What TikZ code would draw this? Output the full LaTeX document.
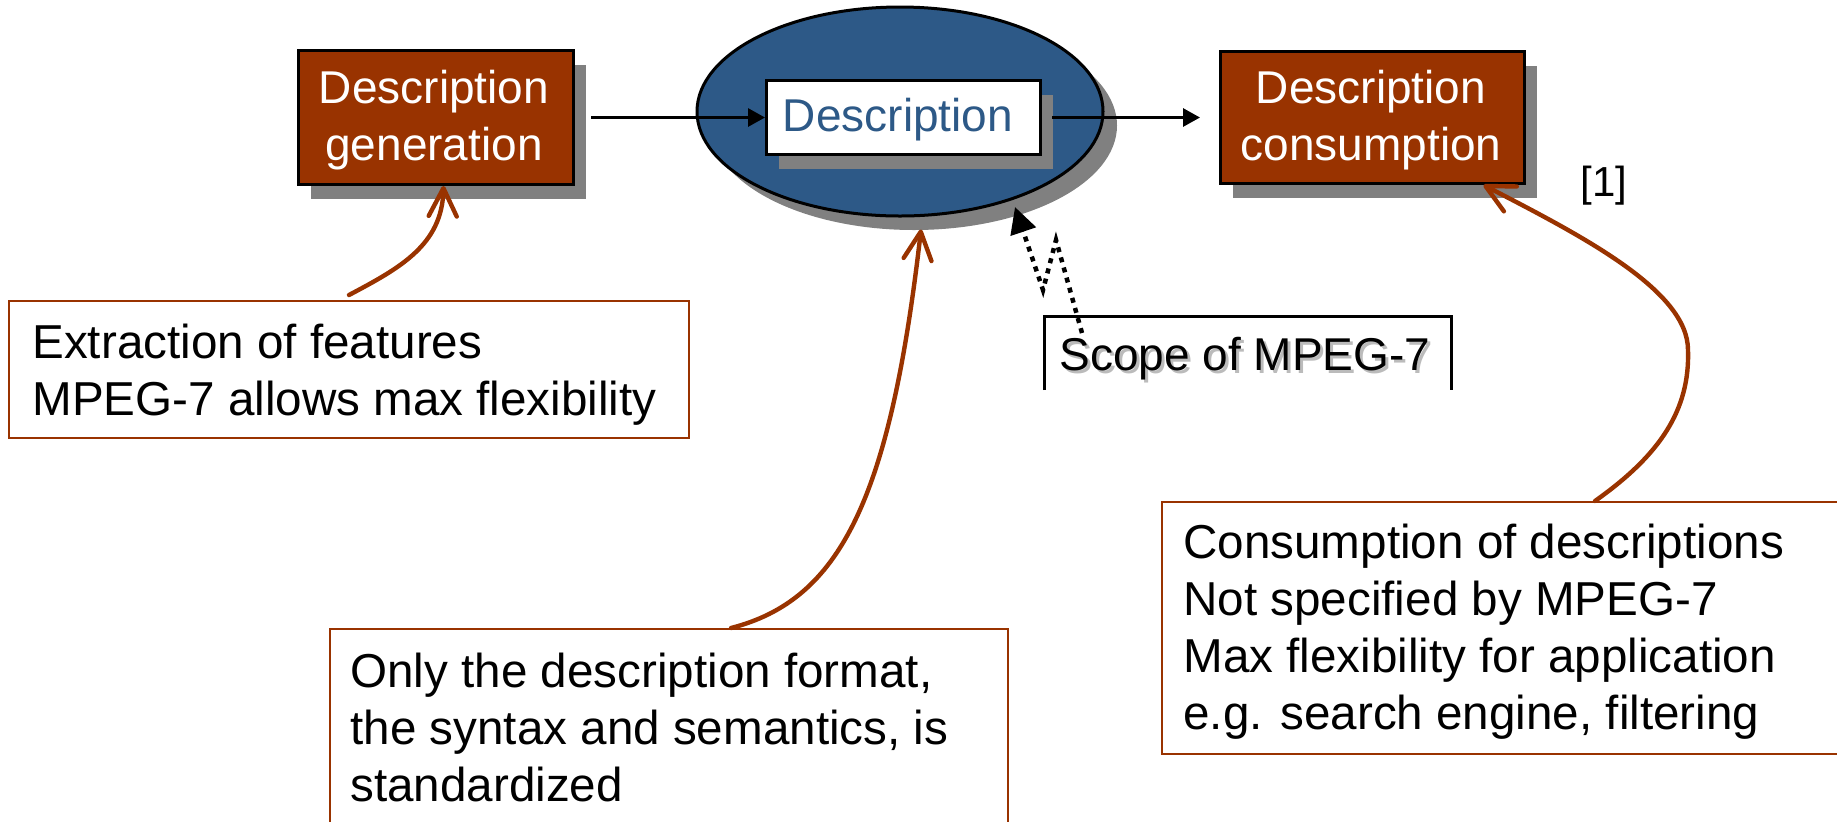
\documentclass[tikz,border=0pt]{standalone}
\usepackage{fontspec}
\setmainfont{Liberation Sans}
\usetikzlibrary{arrows.meta,shapes.geometric,shadows}
\definecolor{brn}{HTML}{993300}
\definecolor{ellblue}{HTML}{2D5987}
\definecolor{shgray}{HTML}{808080}
\definecolor{txshadow}{HTML}{BBBBBB}
\begin{document}
\begin{tikzpicture}[x=0.5pt,y=-0.5pt,
  shad/.style={drop shadow={shadow xshift=6pt,shadow yshift=-7pt,fill=shgray,opacity=1}},
  darkbox/.style={draw=black,line width=1.5pt,fill=brn,shad,inner sep=0pt,anchor=north west},
  notebox/.style={draw=brn,line width=1pt,fill=white,inner sep=0pt,anchor=north west},
  boxlbl/.style={anchor=base,inner sep=0pt,text=white,font=\fontsize{23}{28.5}\selectfont},
  notetxt/.style={anchor=base west,inner sep=0pt,font=\fontsize{23.8}{28.6}\selectfont},
  flow/.style={line width=1.5pt,-{Triangle[length=8.5pt,width=9pt]}},
  brnarrow/.style={draw=brn,line width=2.2pt,line cap=round,-{Straight Barb[length=14pt,width=14pt,round]}},
  dotarrow/.style={line width=2.25pt,dash pattern=on 2.5pt off 2.75pt,-{Triangle[length=13pt,width=13pt,sep=0pt]}}
]
\useasboundingbox (0,0) rectangle (1837,821);
\clip (0,0) rectangle (1837,821);

% top row
\node[darkbox,minimum width=137.5pt,minimum height=67pt] (gen) at (297,49) {};
\node[darkbox,minimum width=152pt,minimum height=66pt] (cons) at (1219,50) {};
\node[ellipse,draw=black,line width=1.5pt,fill=ellblue,minimum width=203pt,minimum height=104.5pt,inner sep=0pt,
      drop shadow={shadow xshift=7pt,shadow yshift=-7pt,fill=shgray,opacity=1}] (ell) at (900,111.5) {};
\node[draw=black,line width=1.5pt,fill=white,shad,inner sep=0pt,anchor=north west,minimum width=137pt,minimum height=37pt] (desc) at (765,79) {};

\node[boxlbl] (gentxt) at (434,103) {\begin{tabular}[t]{@{}c@{}}Description\\generation\end{tabular}};
\node[boxlbl] (constxt) at (1371,103) {\begin{tabular}[t]{@{}c@{}}Description\\consumption\end{tabular}};
\node[anchor=base,inner sep=0pt,text=ellblue,font=\fontsize{23}{28}\selectfont] (desctxt) at (898,131) {Description};

\node[anchor=base,inner sep=0pt,font=\fontsize{21}{25}\selectfont] (ref) at (1604,196) {[1]};

% scope label
\draw[line width=1.5pt] (1044,390) -- (1044,316) -- (1451,316) -- (1451,390);
\node[anchor=base west,inner sep=0pt,text=txshadow,font=\fontsize{23}{28}\selectfont] (scopesh) at (1062,373) {Scope of MPEG-7};
\node[anchor=base west,inner sep=0pt,font=\fontsize{23}{28}\selectfont] (scope) at (1059,370) {Scope of MPEG-7};

% note boxes
\node[notebox,minimum width=340pt,minimum height=68.5pt] (ext) at (8,300) {};
\node[notetxt] (exttxt) at (32,358) {\begin{tabular}[t]{@{}l@{}}Extraction of features\\MPEG-7 allows max flexibility\end{tabular}};

\node[notebox,minimum width=339pt,minimum height=101pt] (only) at (329,628) {};
\node[notetxt] (onlytxt) at (350,687) {\begin{tabular}[t]{@{}l@{}}Only the description format,\\the syntax and semantics, is\\standardized\end{tabular}};

\node[notebox,minimum width=342pt,minimum height=126pt] (cdesc) at (1161,501) {};
\node[notetxt] (cdesctxt) at (1183,558) {\begin{tabular}[t]{@{}l@{}}Consumption of descriptions\\Not specified by MPEG-7\\Max flexibility for application\\e.g. search engine, filtering\end{tabular}};

% flow arrows
\draw[flow] ([xshift=8pt]gen.east) -- (desc.west);
\draw[flow] ([xshift=5pt]desc.east) -- ([xshift=-9.5pt]cons.west);

% dotted arrow
\coordinate (scpt) at (1082,333);
\coordinate (elpt) at (1015,207);
\draw[dotarrow] (scpt) -- (1056,240) -- (1043,290) -- (elpt);

% brown arrows
\draw[brnarrow] ([yshift=2.5pt]ext.north) .. controls (400,268) and (442,245) .. ([xshift=3.75pt]gen.south);
\draw[brnarrow] ([xshift=31pt]only.north) .. controls (840,600) and (890,500) .. ([shift={(10.5pt,-6pt)}]ell.south);
\draw[brnarrow] ([xshift=45.5pt]cdesc.north) .. controls (1660,455) and (1690,410) .. (1688,350)
   .. controls (1688,290) and (1580,235) .. ([xshift=55.5pt]cons.south);
\end{tikzpicture}
\end{document}
